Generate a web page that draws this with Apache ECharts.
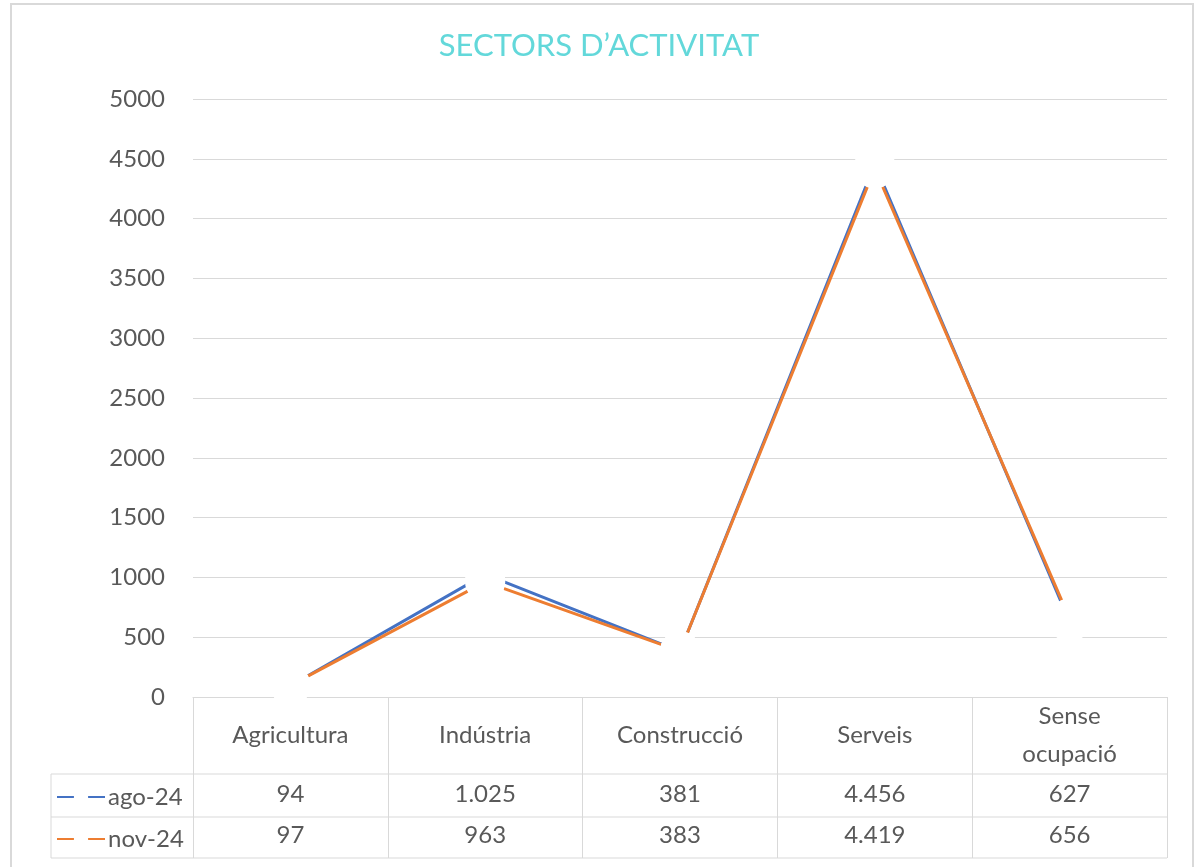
<!DOCTYPE html>
<html>
<head>
<meta charset="utf-8">
<script src="https://cdn.jsdelivr.net/npm/echarts@6/dist/echarts.min.js"></script>
<style>
  html, body { margin: 0; padding: 0; background: #fff; }
  #chart { width: 1198px; height: 867px; }
</style>
</head>
<body>
<div id="chart"></div>
<script>
var categories = ['Agricultura', 'Indústria', 'Construcció', 'Serveis', 'Sense ocupació'];
var seriesNames = ['ago-24', 'nov-24'];
var ago24 = [94, 1025, 381, 4456, 627];
var nov24 = [97, 963, 383, 4419, 656];

var FONT = 'Lato, "Open Sans", sans-serif';
var TEXT = '#595959';
var GRID = '#d9d9d9';
var FS = 24;

function fmt(v) {
    return String(v).replace(/\B(?=(\d{3})+(?!\d))/g, '.');
}

var myChart = echarts.init(document.getElementById('chart'));

var option = {
    backgroundColor: '#fff',
    textStyle: { fontFamily: FONT },
    title: {
        text: 'SECTORS D\u2019ACTIVITAT',
        left: 'center',
        top: 25,
        textStyle: { color: '#63d8da', fontSize: 31, fontWeight: 'normal', fontFamily: FONT }
    },
    legend: {
        data: seriesNames,
        orient: 'vertical',
        left: 51,
        top: 780,
        itemWidth: 48,
        itemHeight: 18,
        itemGap: 18,
        textStyle: { color: TEXT, fontSize: FS, fontFamily: FONT, padding: [0, 0, 0, -2] },
        selectedMode: false
    },
    grid: { left: 193, right: 31, top: 99, bottom: 170 },
    xAxis: {
        type: 'category',
        data: categories,
        boundaryGap: true,
        axisLine: { show: true, lineStyle: { color: GRID, width: 1 } },
        axisTick: { show: true, length: 161, interval: 0, lineStyle: { color: GRID, width: 1 } },
        axisLabel: {
            interval: 0,
            margin: 0,
            color: TEXT,
            fontFamily: FONT,
            formatter: function (value, idx) {
                var parts = value.split(' ');
                var head;
                if (parts.length > 1) {
                    head = parts.map(function (p) { return '{c2|' + p + '}'; }).join('\n');
                } else {
                    head = '{c|' + value + '}';
                }
                return head + '\n{v|' + fmt(ago24[idx]) + '}\n{w|' + fmt(nov24[idx]) + '}';
            },
            rich: {
                c: { fontSize: FS, lineHeight: 77, color: TEXT, fontFamily: FONT },
                c2: { fontSize: FS, lineHeight: 38.5, color: TEXT, fontFamily: FONT },
                v: { fontSize: FS, lineHeight: 40, color: TEXT, fontFamily: FONT },
                w: { fontSize: FS, lineHeight: 42, color: TEXT, fontFamily: FONT }
            }
        }
    },
    yAxis: {
        type: 'value',
        min: 0,
        max: 5000,
        interval: 500,
        axisLine: { show: false },
        axisTick: { show: false },
        axisLabel: { color: TEXT, fontSize: FS, margin: 28, fontFamily: FONT, formatter: function (v) { return String(v); } },
        splitLine: { lineStyle: { color: GRID, width: 1 } }
    },
    series: [
        {
            name: 'ago-24',
            type: 'line',
            data: ago24,
            symbol: 'circle',
            symbolSize: 40,
            showSymbol: true,
            itemStyle: { color: '#fff', borderWidth: 0 },
            lineStyle: { color: '#4472c4', width: 3 },
            z: 2
        },
        {
            name: 'nov-24',
            type: 'line',
            data: nov24,
            symbol: 'circle',
            symbolSize: 40,
            showSymbol: true,
            itemStyle: { color: '#fff', borderWidth: 0 },
            lineStyle: { color: '#ed7d31', width: 3 },
            z: 2
        },
        {
            name: 'markers-ago',
            type: 'scatter',
            data: ago24,
            symbol: 'circle',
            symbolSize: 40,
            itemStyle: { color: '#fff', borderWidth: 0 },
            silent: true,
            z: 3
        },
        {
            name: 'markers-nov',
            type: 'scatter',
            data: nov24,
            symbol: 'circle',
            symbolSize: 40,
            itemStyle: { color: '#fff', borderWidth: 0 },
            silent: true,
            z: 3
        }
    ],
    graphic: [
        {
            type: 'rect',
            shape: { x: 11, y: 4, width: 1182, height: 880 },
            style: { fill: null, stroke: GRID, lineWidth: 2 },
            silent: true
        },
        {
            type: 'polyline',
            shape: { points: [[1167, 774], [51, 774], [51, 858], [1167, 858]] },
            style: { fill: null, stroke: GRID, lineWidth: 1 },
            silent: true
        },
        {
            type: 'line',
            shape: { x1: 51, y1: 817, x2: 1167, y2: 817 },
            style: { stroke: GRID, lineWidth: 1 },
            silent: true
        }
    ]
};

myChart.setOption(option);
</script>
</body>
</html>
